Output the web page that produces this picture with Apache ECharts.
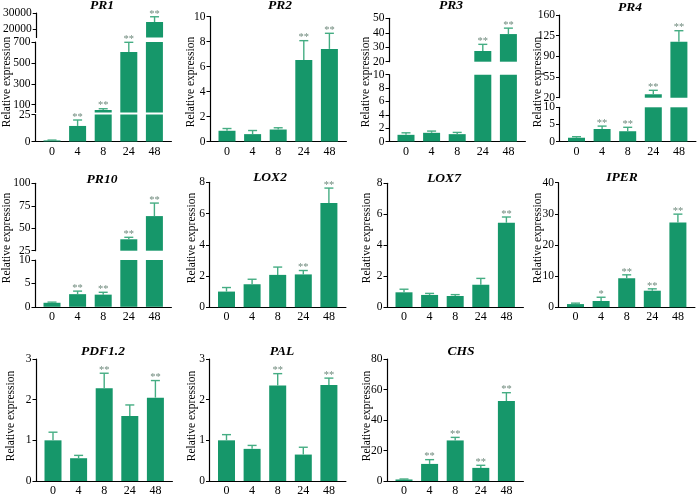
<!DOCTYPE html>
<html><head><meta charset="utf-8">
<script src="https://cdn.jsdelivr.net/npm/echarts@6/dist/echarts.min.js"></script>
<style>html,body{margin:0;padding:0;background:#fff}#c{width:700px;height:497px}</style>
</head><body><div id="c"></div>
<script>
// ---------- data ----------
const categories = ['0', '4', '8', '24', '48'];
const yName = 'Relative expression';

const pr1Mean = [1.0, 14.4, 49, 605, 24500];
const pr1Err  = [0.3, 5.5, 12, 92, 3200];
const pr1Sig  = ['', '**', '**', '**', '**'];
const pr1Ticks = [[0, 25], [100, 300, 500, 700], [20000, 30000]];

const pr2Mean = [0.86, 0.59, 0.96, 6.54, 7.42];
const pr2Err  = [0.18, 0.29, 0.14, 1.54, 1.25];
const pr2Sig  = ['', '', '', '**', '**'];
const pr2Ticks = [0, 2, 4, 6, 8, 10];

const pr3Mean = [1.0, 1.3, 1.1, 27.4, 39.1];
const pr3Err  = [0.3, 0.26, 0.26, 4.6, 4.1];
const pr3Sig  = ['', '', '', '**', '**'];
const pr3Ticks = [[0, 2, 4, 6, 8, 10], [20, 30, 40, 50]];

const pr4Mean = [1.1, 3.65, 3.0, 25.8, 114.8];
const pr4Err  = [0.3, 0.85, 1.15, 6.7, 18.6];
const pr4Sig  = ['', '**', '**', '**', '**'];
const pr4Ticks = [[0, 5, 10], [20, 55, 90, 125, 160]];

const pr10Mean = [0.86, 2.7, 2.6, 37.7, 63.5];
const pr10Err  = [0.14, 0.65, 0.5, 2.2, 14.5];
const pr10Sig  = ['', '**', '**', '**', '**'];
const pr10Ticks = [[0, 5, 10], [25, 50, 75, 100]];

const lox2Mean = [1.0, 1.47, 2.07, 2.1, 6.68];
const lox2Err  = [0.26, 0.32, 0.5, 0.25, 0.95];
const lox2Sig  = ['', '', '', '**', '**'];
const lox2Ticks = [0, 2, 4, 6, 8];

const lox7Mean = [0.95, 0.78, 0.71, 1.44, 5.45];
const lox7Err  = [0.2, 0.1, 0.09, 0.41, 0.37];
const lox7Sig  = ['', '', '', '', '**'];
const lox7Ticks = [0, 2, 4, 6, 8];

const iperMean = [1.0, 2.0, 9.3, 5.3, 27.2];
const iperErr  = [0.3, 1.2, 1.1, 0.6, 2.7];
const iperSig  = ['', '*', '**', '**', '**'];
const iperTicks = [0, 10, 20, 30, 40];

const pdfMean = [1.0, 0.56, 2.28, 1.6, 2.05];
const pdfErr  = [0.2, 0.07, 0.37, 0.27, 0.42];
const pdfSig  = ['', '', '**', '', '**'];
const pdfTicks = [0, 1, 2, 3];

const palMean = [1.0, 0.79, 2.35, 0.65, 2.36];
const palErr  = [0.14, 0.085, 0.29, 0.18, 0.17];
const palSig  = ['', '', '**', '', '**'];
const palTicks = [0, 1, 2, 3];

const chsMean = [1.0, 11.2, 26.6, 8.6, 52.4];
const chsErr  = [0.3, 2.8, 2.0, 1.7, 5.5];
const chsSig  = ['', '**', '**', '**', '**'];
const chsTicks = [0, 20, 40, 60, 80];

// ---------- layout ----------
const FONT = "'Liberation Serif', 'Times New Roman', serif";
const BAR = '#16976a', ERR = '#45ad83', STAR = '#6f8a7d';
const SP = 25.6, GAP = 17;
const XMIN = -GAP / SP, XMAX = 4 + GAP / SP;
const GW = (XMAX - XMIN) * SP;

const panels = [
  {name: 'PR1', mean: pr1Mean, err: pr1Err, sig: pr1Sig, left: 35, tx: 102, ty: 6, lx: 7, ly: 82,
   segs: [{min: 0, max: 25, top: 114.5, bottom: 141.5, ticks: pr1Ticks[0]},
          {min: 25, max: 700, top: 42, bottom: 112.5, ticks: pr1Ticks[1]},
          {min: 15000, max: 30000, top: 13, bottom: 37.5, ticks: pr1Ticks[2]}]},
  {name: 'PR2', mean: pr2Mean, err: pr2Err, sig: pr2Sig, left: 210, tx: 280, ty: 6, lx: 191, ly: 82,
   segs: [{min: 0, max: 10, top: 16.7, bottom: 141.5, ticks: pr2Ticks}]},
  {name: 'PR3', mean: pr3Mean, err: pr3Err, sig: pr3Sig, left: 389, tx: 451, ty: 6, lx: 366, ly: 82,
   segs: [{min: 0, max: 10, top: 74.7, bottom: 141.5, ticks: pr3Ticks[0]},
          {min: 20, max: 50, top: 18.3, bottom: 61.7, ticks: pr3Ticks[1]}]},
  {name: 'PR4', mean: pr4Mean, err: pr4Err, sig: pr4Sig, left: 559.5, tx: 630, ty: 7.5, lx: 538, ly: 82,
   segs: [{min: 0, max: 10, top: 107.3, bottom: 141.5, ticks: pr4Ticks[0]},
          {min: 20, max: 160, top: 15, bottom: 97.7, ticks: pr4Ticks[1]}]},
  {name: 'PR10', mean: pr10Mean, err: pr10Err, sig: pr10Sig, left: 35, tx: 102, ty: 180, lx: 7, ly: 238,
   segs: [{min: 0, max: 10, top: 260, bottom: 306.8, ticks: pr10Ticks[0]},
          {min: 25, max: 100, top: 183.3, bottom: 250.7, ticks: pr10Ticks[1]}]},
  {name: 'LOX2', mean: lox2Mean, err: lox2Err, sig: lox2Sig, left: 209.5, tx: 270, ty: 177.5, lx: 192, ly: 238,
   segs: [{min: 0, max: 8, top: 182.3, bottom: 307.2, ticks: lox2Ticks}]},
  {name: 'LOX7', mean: lox7Mean, err: lox7Err, sig: lox7Sig, left: 387, tx: 444, ty: 179, lx: 367, ly: 238,
   segs: [{min: 0, max: 8, top: 183.3, bottom: 307, ticks: lox7Ticks}]},
  {name: 'IPER', mean: iperMean, err: iperErr, sig: iperSig, left: 558.5, tx: 622, ty: 178, lx: 538, ly: 238,
   segs: [{min: 0, max: 40, top: 182.7, bottom: 307.2, ticks: iperTicks}]},
  {name: 'PDF1.2', mean: pdfMean, err: pdfErr, sig: pdfSig, left: 36, tx: 103, ty: 352, lx: 11, ly: 416,
   segs: [{min: 0, max: 3, top: 359, bottom: 483.3, ticks: pdfTicks}]},
  {name: 'PAL', mean: palMean, err: palErr, sig: palSig, left: 209.5, tx: 282, ty: 352, lx: 192, ly: 416,
   segs: [{min: 0, max: 3, top: 359, bottom: 483.5, ticks: palTicks}]},
  {name: 'CHS', mean: chsMean, err: chsErr, sig: chsSig, left: 387, tx: 461, ty: 352, lx: 367, ly: 416,
   segs: [{min: 0, max: 80, top: 359, bottom: 483.2, ticks: chsTicks}]}
];

const grid = [], xAxis = [], yAxis = [], series = [], graphic = [];

panels.forEach(p => {
  p.segs.forEach((s, si) => {
    const gi = grid.length;
    grid.push({left: p.left, top: s.top, width: GW, height: s.bottom - s.top, containLabel: false});
    const isBottom = si === 0;
    xAxis.push({
      type: 'value', gridIndex: gi, min: XMIN, max: XMAX, show: isBottom,
      axisLine: {onZero: false, lineStyle: {color: '#000', width: 1.2}},
      axisTick: {show: false}, splitLine: {show: false},
      axisLabel: {customValues: categories.map((c, i) => i), formatter: v => categories[Math.round(v)],
                  fontFamily: FONT, fontSize: 12, color: '#000', margin: 4}
    });
    yAxis.push({
      type: 'value', gridIndex: gi, min: s.min, max: s.max,
      axisLine: {show: true, onZero: false, lineStyle: {color: '#000', width: 1.2}},
      axisTick: {show: true, length: 3.5, customValues: s.ticks, lineStyle: {color: '#000', width: 1}},
      axisLabel: {customValues: s.ticks, formatter: v => String(v),
                  fontFamily: FONT, fontSize: 11.5, color: '#000', margin: 4.5},
      splitLine: {show: false}
    });
    series.push({
      type: 'bar', xAxisIndex: gi, yAxisIndex: gi, barWidth: 17, clip: true, silent: true,
      itemStyle: {color: BAR},
      data: p.mean.map((v, i) => [i, v])
    });
    const lo = s.min, hi = s.max, sig = p.sig;
    series.push({
      type: 'custom', xAxisIndex: gi, yAxisIndex: gi, clip: false, silent: true, z: 5,
      data: p.mean.map((v, i) => [i, v, p.err[i]]),
      renderItem: (params, api) => {
        const x = api.value(0), m = api.value(1), e = api.value(2);
        if (m < lo || m > hi) return null;
        const b = api.coord([x, m]), t = api.coord([x, m + e]);
        const ch = [
          {type: 'line', shape: {x1: b[0], y1: b[1], x2: t[0], y2: t[1]}, style: {stroke: ERR, lineWidth: 1.4}},
          {type: 'line', shape: {x1: t[0] - 4.5, y1: t[1], x2: t[0] + 4.5, y2: t[1]}, style: {stroke: ERR, lineWidth: 1.4}}
        ];
        const st = sig[params.dataIndex];
        if (st) ch.push({type: 'text', x: t[0], y: t[1] + 2.5,
          style: {text: st, fill: STAR, font: '10.5px ' + FONT, align: 'center', verticalAlign: 'bottom'}});
        return {type: 'group', children: ch};
      }
    });
  });
  graphic.push({type: 'text', x: p.tx, y: p.ty, silent: true,
    style: {text: p.name, fill: '#000', font: 'italic bold 13.5px ' + FONT, align: 'center', verticalAlign: 'middle'}});
  graphic.push({type: 'text', x: p.lx, y: p.ly, rotation: Math.PI / 2, silent: true,
    style: {text: yName, fill: '#000', font: '11.5px ' + FONT, align: 'center', verticalAlign: 'middle'}});
});

const chart = echarts.init(document.getElementById('c'), null, {renderer: 'canvas'});
chart.setOption({animation: false, backgroundColor: '#fff', grid, xAxis, yAxis, series, graphic});
</script>
</body></html>
